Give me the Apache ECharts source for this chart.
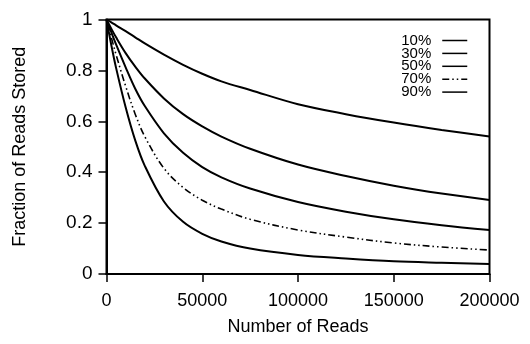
<!DOCTYPE html>
<html>
<head>
<meta charset="utf-8">
<script src="https://cdn.jsdelivr.net/npm/echarts@6/dist/echarts.min.js"></script>
<style>
  html, body { margin: 0; padding: 0; background: #fff; }
  #chart { width: 530px; height: 344px; }
</style>
</head>
<body>
<div id="chart"></div>
<script>
// number of reads (x axis)
const reads = [0, 2500, 5000, 10000, 15000, 20000, 30000, 40000, 50000, 60000, 75000,
  100000, 125000, 150000, 175000, 200000];

// fraction of reads stored, one list per percentage
const names = ['10%', '30%', '50%', '70%', '90%'];
const p10 = [1.0, 0.989, 0.977, 0.954, 0.93, 0.906, 0.862, 0.822, 0.787, 0.757, 0.723, 0.667, 0.628, 0.595, 0.566, 0.54];
const p30 = [1.0, 0.964, 0.93, 0.868, 0.815, 0.768, 0.69, 0.628, 0.58, 0.54, 0.492, 0.43, 0.385, 0.347, 0.316, 0.291];
const p50 = [1.0, 0.95, 0.902, 0.812, 0.728, 0.66, 0.553, 0.476, 0.42, 0.38, 0.336, 0.283, 0.245, 0.215, 0.192, 0.173];
const p70 = [1.0, 0.93, 0.862, 0.738, 0.628, 0.54, 0.415, 0.34, 0.29, 0.255, 0.215, 0.173, 0.145, 0.122, 0.106, 0.094];
const p90 = [1.0, 0.9, 0.81, 0.655, 0.525, 0.425, 0.285, 0.205, 0.158, 0.128, 0.1, 0.075, 0.061, 0.05, 0.044, 0.039];

const xTicks = [0, 50000, 100000, 150000, 200000];
const yTicks = [0, 0.2, 0.4, 0.6, 0.8, 1];

const allSeries = [p10, p30, p50, p70, p90];
const FONT = 'Liberation Sans';

const chart = echarts.init(document.getElementById('chart'));

const series = allSeries.map((vals, i) => ({
  name: names[i],
  type: 'line',
  smooth: 0.35,
  symbol: 'none',
  data: vals.map((v, j) => [reads[j], v]),
  lineStyle: i === 3
    ? { color: '#000', width: 1.6, type: [7, 3, 1.5, 3, 1.5, 3] }
    : { color: '#000', width: 2 },
  itemStyle: { color: '#000' },
}));

chart.setOption({
  animation: false,
  textStyle: { fontFamily: FONT },
  grid: { left: 106.5, right: 40.5, top: 19.5, bottom: 70, show: true, borderColor: '#000', borderWidth: 2 },
  legend: {
    orient: 'vertical',
    right: 62,
    top: 33,
    padding: 0,
    align: 'right',
    itemWidth: 25,
    itemHeight: 10,
    itemGap: -2.1,
    itemStyle: { opacity: 0 },
    lineStyle: { width: 1.5 },
    textStyle: { fontSize: 15, color: '#000', fontFamily: FONT, padding: [0, 6, 0, 0] },
    data: names,
  },
  xAxis: {
    type: 'value',
    min: xTicks[0],
    max: xTicks[xTicks.length - 1],
    interval: 50000,
    name: 'Number of Reads',
    nameLocation: 'center',
    nameGap: 44,
    nameTextStyle: { fontSize: 18, color: '#000', fontFamily: FONT },
    axisLine: { lineStyle: { color: '#000', width: 2 } },
    axisTick: { length: 8, lineStyle: { color: '#000', width: 1.5 } },
    axisLabel: { fontSize: 18, color: '#000', margin: 18, formatter: (v) => String(v) },
    splitLine: { show: false },
  },
  yAxis: {
    type: 'value',
    min: yTicks[0],
    max: yTicks[yTicks.length - 1],
    interval: 0.2,
    name: 'Fraction of Reads Stored',
    nameLocation: 'center',
    nameGap: 77,
    nameTextStyle: { fontSize: 18, color: '#000', fontFamily: FONT },
    axisLine: { lineStyle: { color: '#000', width: 2 } },
    axisTick: { length: 8, lineStyle: { color: '#000', width: 1.5 } },
    axisLabel: { fontSize: 19, color: '#000', margin: 14, formatter: (v) => String(+v.toFixed(1)) },
    splitLine: { show: false },
  },
  series,
});
</script>
</body>
</html>
